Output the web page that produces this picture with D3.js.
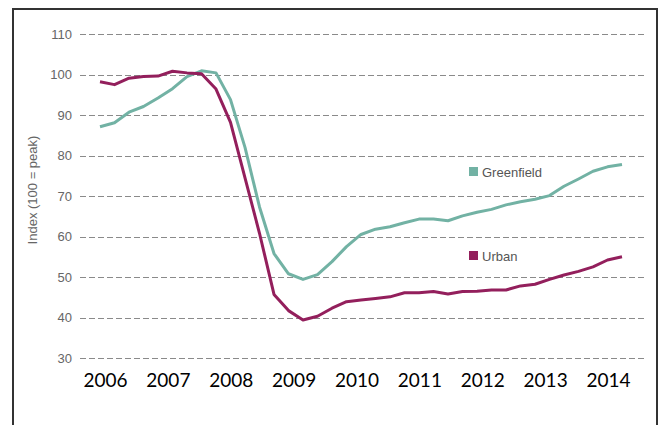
<!DOCTYPE html>
<html>
<head>
<script src="https://cdn.jsdelivr.net/npm/d3@7/dist/d3.min.js" charset="UTF-8"></script>
<style type="text/css">
	body { margin: 0; background: #fff; }
	.grid line { stroke: #8a8a8a; stroke-dasharray: 6,3; shape-rendering: crispEdges; }
	.grid path { display: none; }
	.yaxis text { font-family: "Liberation Sans", Arial, sans-serif; font-size: 13px; fill: #666; }
	.xaxis text { font-family: Lato, "Open Sans", sans-serif; font-size: 19px; fill: #000; }
	.legend text { font-family: "Liberation Sans", Arial, sans-serif; font-size: 13px; fill: #555; }
</style>
</head>
<body>
<script type="text/javascript">
var width = 660;
var height = 425;

var years = ["2006", "2007", "2008", "2009", "2010", "2011", "2012", "2013", "2014"];
var yTicks = [30, 40, 50, 60, 70, 80, 90, 100, 110];

var greenfield = [87.1, 88.1, 90.7, 92.1, 94.2, 96.5, 99.5, 100.9, 100.4, 93.8,
	82, 67.3, 55.8, 50.8, 49.4, 50.6, 53.8, 57.5, 60.5, 61.8,
	62.4, 63.4, 64.3, 64.3, 63.9, 65.1, 66, 66.7, 67.8, 68.6,
	69.2, 70.1, 72.4, 74.2, 76.1, 77.2, 77.8];
var urban = [98.2, 97.5, 99.1, 99.5, 99.6, 100.8, 100.4, 100.2, 96.4, 88.2,
	74.5, 60.8, 45.7, 41.7, 39.4, 40.3, 42.3, 43.9, 44.3, 44.7,
	45.1, 46.1, 46.1, 46.4, 45.8, 46.4, 46.5, 46.8, 46.8, 47.8,
	48.2, 49.4, 50.5, 51.4, 52.5, 54.2, 55];

var series = [
	{name: "Greenfield", values: greenfield, color: "#72b2a4", ly: 172},
	{name: "Urban", values: urban, color: "#931f5c", ly: 256}
];

var svg = d3.select("body")
	.append("svg")
	.attr("width", width)
	.attr("height", height);

// outer frame
svg.append("rect")
	.attr("x", 13).attr("y", 9)
	.attr("width", 644).attr("height", 430)
	.attr("fill", "none")
	.attr("stroke", "#333")
	.attr("stroke-width", 2);

var xScale = d3.scaleLinear()
	.domain([0, greenfield.length - 1])
	.range([100, 622]);

var yearScale = d3.scalePoint()
	.domain(years)
	.range([105, 608]);

var yScale = d3.scaleLinear()
	.domain([30, 110])
	.range([358, 34]);

svg.append("g")
	.attr("class", "grid")
	.attr("transform", "translate(80,0)")
	.call(d3.axisLeft(yScale).tickValues(yTicks).tickSize(-566).tickFormat(""));

svg.append("g")
	.attr("class", "yaxis")
	.attr("transform", "translate(74,0)")
	.call(d3.axisLeft(yScale).tickValues(yTicks).tickSize(0).tickPadding(2))
	.call(function(g) { g.select(".domain").remove(); });

svg.append("g")
	.attr("class", "xaxis")
	.attr("transform", "translate(0,366)")
	.call(d3.axisBottom(yearScale).tickSize(0).tickPadding(8))
	.call(function(g) { g.select(".domain").remove(); });

svg.append("text")
	.attr("transform", "translate(37,190) rotate(-90)")
	.attr("text-anchor", "middle")
	.attr("font-family", "Liberation Sans, Arial, sans-serif")
	.attr("font-size", 13)
	.attr("fill", "#666")
	.text("Index (100 = peak)");

var line = d3.line()
	.x(function(d, i) { return xScale(i); })
	.y(function(d) { return yScale(d); });

svg.selectAll(".series")
	.data(series)
	.enter().append("path")
	.attr("class", "series")
	.attr("fill", "none")
	.attr("stroke", function(d) { return d.color; })
	.attr("stroke-width", 3)
	.attr("stroke-linejoin", "round")
	.attr("d", function(d) { return line(d.values); });

var legend = svg.selectAll(".legend")
	.data(series)
	.enter().append("g")
	.attr("class", "legend")
	.attr("transform", function(d) { return "translate(469," + d.ly + ")"; });
legend.append("rect")
	.attr("x", 0).attr("y", -5)
	.attr("width", 9).attr("height", 9)
	.attr("fill", function(d) { return d.color; });
legend.append("text")
	.attr("x", 13).attr("y", 4.5)
	.text(function(d) { return d.name; });
</script>
</body>
</html>
